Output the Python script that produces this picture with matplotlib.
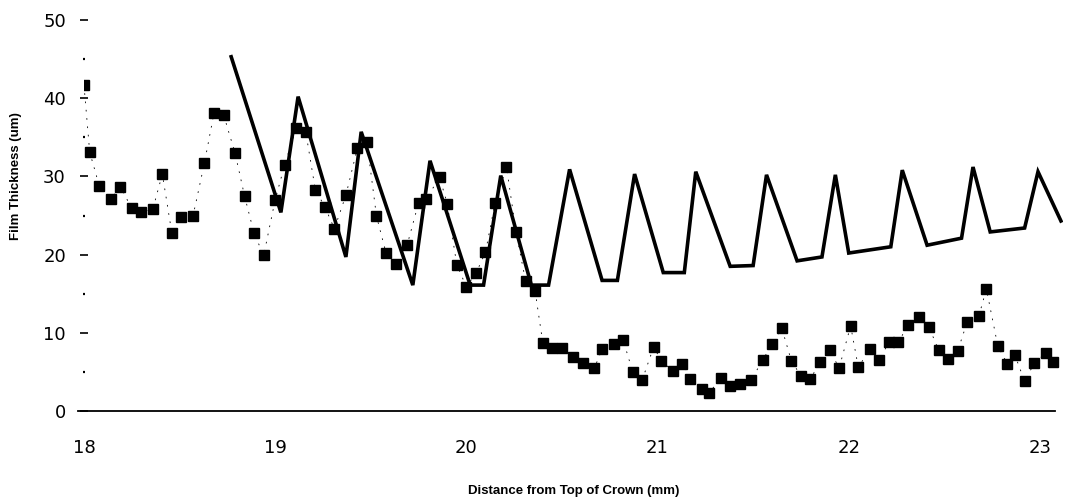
import matplotlib
matplotlib.use("Agg")
import matplotlib.pyplot as plt
from matplotlib.ticker import MultipleLocator

plt.rcParams['font.family'] = ['DejaVu Sans']

# measured film thickness (square markers)
meas_x = [18.00, 18.03, 18.08, 18.14, 18.19, 18.25, 18.30, 18.36, 18.41, 18.46,
          18.51, 18.57, 18.63, 18.68, 18.73, 18.79, 18.84, 18.89, 18.94, 19.00,
          19.05, 19.11, 19.16, 19.21, 19.26, 19.31, 19.37, 19.43, 19.48, 19.53,
          19.58, 19.63, 19.69, 19.75, 19.79, 19.86, 19.90, 19.95, 20.00, 20.05,
          20.10, 20.15, 20.21, 20.26, 20.31, 20.36, 20.40, 20.45, 20.50, 20.56,
          20.61, 20.67, 20.71, 20.77, 20.82, 20.87, 20.92, 20.98, 21.02, 21.08,
          21.13, 21.17, 21.23, 21.27, 21.33, 21.38, 21.43, 21.49, 21.55, 21.60,
          21.65, 21.70, 21.75, 21.80, 21.85, 21.90, 21.95, 22.01, 22.05, 22.11,
          22.16, 22.21, 22.26, 22.31, 22.37, 22.42, 22.47, 22.52, 22.57, 22.62,
          22.68, 22.72, 22.78, 22.83, 22.87, 22.92, 22.97, 23.03, 23.07]
meas_y = [41.7, 33.1, 28.8, 27.1, 28.7, 25.9, 25.5, 25.8, 30.3, 22.7,
          24.8, 24.9, 31.7, 38.1, 37.9, 33.0, 27.5, 22.7, 19.9, 27.0,
          31.5, 36.2, 35.7, 28.3, 26.1, 23.3, 27.6, 33.6, 34.4, 24.9,
          20.2, 18.8, 21.2, 26.6, 27.1, 29.9, 26.5, 18.7, 15.9, 17.6,
          20.3, 26.6, 31.2, 22.9, 16.6, 15.3, 8.7, 8.1, 8.1, 6.9,
          6.1, 5.5, 7.9, 8.6, 9.1, 5.0, 4.0, 8.2, 6.4, 5.1,
          6.0, 4.1, 2.8, 2.3, 4.2, 3.2, 3.5, 4.0, 6.5, 8.6,
          10.6, 6.4, 4.5, 4.1, 6.3, 7.8, 5.5, 10.9, 5.6, 7.9,
          6.5, 8.8, 8.8, 11.0, 12.0, 10.7, 7.8, 6.7, 7.7, 11.4,
          12.1, 15.6, 8.3, 6.0, 7.1, 3.8, 6.1, 7.4, 6.3]

# predicted film thickness (solid line)
pred_x = [18.77, 19.03, 19.12, 19.37, 19.45, 19.72, 19.81, 20.02, 20.09, 20.18,
          20.34, 20.43, 20.54, 20.71, 20.79, 20.88, 21.03, 21.14, 21.20, 21.38,
          21.50, 21.57, 21.73, 21.86, 21.93, 22.00, 22.22, 22.28, 22.41, 22.59,
          22.65, 22.74, 22.92, 22.99, 23.11]
pred_y = [45.3, 25.4, 40.2, 19.7, 35.7, 16.1, 32.0, 16.1, 16.1, 30.1,
          16.1, 16.1, 30.9, 16.7, 16.7, 30.3, 17.7, 17.7, 30.6, 18.5,
          18.6, 30.2, 19.2, 19.7, 30.2, 20.2, 21.0, 30.8, 21.2, 22.1,
          31.2, 22.9, 23.4, 30.6, 24.3]

x_ticks = [18, 19, 20, 21, 22, 23]
y_ticks = [0, 10, 20, 30, 40, 50]

fig = plt.figure(figsize=(10.71, 5.0), dpi=100)
ax = fig.add_axes([0.0784, 0.178, 0.914, 0.782])

ax.plot(pred_x, pred_y, color='black', lw=2.6, solid_joinstyle='miter')
# sparse dotted connector between the measured points
ax.plot(meas_x, meas_y, color='black', lw=0.6, ls=(0, (2, 8)))
ax.plot(meas_x, meas_y, ls='none', marker='s', ms=7.5, mfc='black', mec='black')

ax.set_xlim(18.0, 23.12)
ax.set_ylim(0, 50)

for side in ['top', 'right', 'left']:
    ax.spines[side].set_visible(False)
ax.spines['bottom'].set_linewidth(1.3)
ax.spines['bottom'].set_bounds(17.97, 23.08)

ax.set_xticks(x_ticks)
ax.set_yticks(y_ticks)
ax.yaxis.set_minor_locator(MultipleLocator(5))
ax.tick_params(axis='x', length=0, pad=20, labelsize=13)
ax.tick_params(axis='y', which='major', direction='inout', length=6,
               width=1.2, pad=10, labelsize=13)
ax.tick_params(axis='y', which='minor', direction='inout', length=2, width=1.6)

ax.set_xlabel('Distance from Top of Crown (mm)', fontsize=9.5, fontweight='bold',
              family=['Liberation Sans', 'DejaVu Sans'])
ax.set_ylabel('Film Thickness (um)', fontsize=9.5, fontweight='bold',
              family=['Liberation Sans', 'DejaVu Sans'])
ax.xaxis.set_label_coords(0.50, -0.19)
ax.yaxis.set_label_coords(-0.063, 0.60)

fig.savefig('out.png', dpi=100)
